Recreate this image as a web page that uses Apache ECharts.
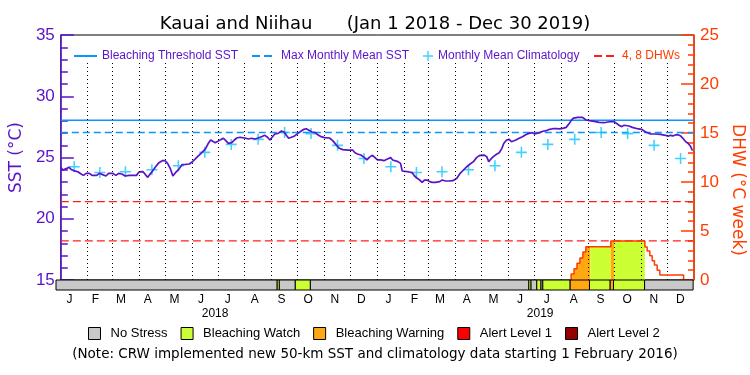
<!DOCTYPE html>
<html>
<head>
<meta charset="utf-8">
<script src="https://cdn.jsdelivr.net/npm/echarts@6/dist/echarts.min.js"></script>
<style>
html,body{margin:0;padding:0;background:#fff;}
#chart{width:750px;height:375px;}
</style>
</head>
<body>
<div id="chart"></div>
<script>
// all days are counted from Jan 1 2018
var monthStarts = [0,31,59,90,120,151,181,212,243,273,304,334,365,396,424,455,485,516,546,577,608,638,669,699,730];
var monthLetters = ['J','F','M','A','M','J','J','A','S','O','N','D'];
var yearLabels = ['2018','2019'];
var yearLabelDays = [182, 554];

// daily SST
var sstDays = [0,2.4,6.3,9.3,12,14.7,19.6,23.4,26.1,29.2,33,36,38.3,41.4,44.4,48.2,52.1,55.1,59.7,63.5,66.6,70.4,74.2,78.8,87.2,90.2,94.8,97.1,100.2,102.4,105.5,109.3,113.1,117,120,123.1,126.1,129.2,132.2,136,139.9,143.7,148.2,151.3,155.1,158.9,162.8,166.6,169.6,172.7,175,178,180.3,
  184.9,187.5,190.2,193.3,197.1,200.1,202.8,206.6,212.3,216.2,220,223.8,227.6,231.4,235.2,238.3,241,243.6,246.7,250.5,254.3,257.4,260,262.7,265.8,269.6,273.4,277.2,280.3,283,285.6,289.4,293.3,296.3,300.1,303.9,309.7,313.5,317.3,321.1,325,330.7,336.4,339.1,342.1,345.9,349.7,352.8,355.5,359.3,362,365,
  368.8,372.6,376.5,380.3,382.6,384.8,388.7,391.7,393.6,395.5,401.3,405.1,407.8,410.8,413.9,416.5,419.2,422.3,425.3,428,431.8,436.8,439.8,443.2,447.1,452,456.6,460.4,464.2,468.1,471.9,475.7,479.5,483.3,487.9,491,493.3,495.5,498.6,502.4,505.5,508.5,510.8,513.9,516.9,519.6,521.5,524.6,528.4,532.2,536,539.6,543.6,546.3,548.2,
  552,555.8,559.7,563.5,567.3,571.1,574.9,578.7,582.6,584.5,586.4,588.3,591,595.9,601.6,605.5,609.3,615,620.7,626.5,630.3,634.1,637.9,639.8,643.6,646.7,649.3,651.3,655.1,658.9,664.6,669.6,674.2,679.9,685.6,691.3,697.1,700.1,702.8,705.5,708.5,711.6,714.2,716.9,720,723,725.7,727.6,728.4];
var sstVals = [24.20,23.98,24.09,24.20,24.03,23.93,23.84,23.65,23.54,23.71,23.71,23.54,23.38,23.54,23.71,23.60,23.49,23.71,23.71,23.54,23.71,23.65,23.49,23.54,23.54,23.82,23.84,23.71,23.38,23.60,23.87,24.25,24.58,24.74,24.74,24.52,24.12,23.49,23.76,24.03,24.42,24.44,24.47,24.63,24.88,25.15,25.42,25.69,26.10,26.43,26.54,26.21,26.29,
  26.48,26.57,26.38,26.16,26.21,26.43,26.59,26.65,26.59,26.51,26.57,26.51,26.59,26.70,26.81,26.65,26.43,26.65,26.92,26.97,27.16,27.08,26.81,26.57,26.65,26.76,26.97,27.16,27.30,27.35,27.25,27.08,27.03,26.86,26.70,26.62,26.59,26.38,26.05,25.75,25.64,25.61,25.61,25.39,25.29,25.20,25.01,24.80,25.01,25.18,25.01,24.80,
  24.80,24.74,24.88,24.99,24.80,24.66,24.66,24.52,23.90,23.84,23.82,23.76,23.49,23.30,23.16,22.97,23.16,23.16,23.03,22.97,22.97,23.03,23.16,23.08,23.08,23.11,23.30,23.71,23.98,24.25,24.47,24.66,25.01,25.18,25.20,25.07,24.66,24.85,25.07,25.26,25.39,25.75,26.16,26.43,26.48,26.29,26.16,26.43,26.57,26.70,26.86,26.97,27.03,26.92,26.89,
  27.03,27.14,27.19,27.30,27.35,27.35,27.33,27.38,27.46,27.52,27.79,28.01,28.22,28.28,28.28,28.06,28.01,27.95,27.87,27.84,27.90,27.93,27.93,27.84,27.63,27.52,27.63,27.71,27.57,27.46,27.35,27.30,27.08,26.92,26.92,26.89,26.81,26.73,26.81,26.76,26.84,26.86,26.78,26.59,26.32,26.16,25.94,25.67,25.56];

// monthly mean climatology, Jan..Dec
var climVals = [24.25,23.78,23.83,24.00,24.33,25.42,26.07,26.48,27.04,26.95,25.99,24.92];
var mmm = 27.04;
var bleachThreshold = 28.04;
var dhwLevels = [4, 8];

// DHW: new value starting on each day
var dhwDays = [588.3,591.7,595.1,598.5,601.9,605.3,634.1,673.4,676.0,679.1,681.8,684.4,687.5,690.6,718.0];
var dhwVals = [0.6,1.15,1.7,2.25,2.85,3.4,3.98,3.37,2.96,2.48,1.97,1.53,0.99,0.51,0];

// stress level segments
var statusStart = [0,253.1,255.4,273.8,290.9,541.0,543.3,550.1,554.7,557.0,588.3,610.4,634.1,637.9,673.4];
var statusEnd   = [253.1,255.4,273.8,290.9,541.0,543.3,550.1,554.7,557.0,588.3,610.4,634.1,637.9,673.4,729.0];
var statusLevel = [0,1,0,1,0,1,0,1,0,1,2,1,2,1,0];
var statusNames = ['No Stress','Bleaching Watch','Bleaching Warning','Alert Level 1','Alert Level 2'];
var statusColors = ['#c8c8c8','#ccff33','#ffa812','#ff0000','#960000'];

var xMin = 0, xMax = 730;
var sstColor = '#5a14c8';
var dhwColor = '#ff3c00';
var font = 'Liberation Sans';
var wideFont = 'DejaVu Sans';

function dhwAt(d) {
	var v = 0;
	for (var i = 0; i < dhwDays.length; i++) {
		if (dhwDays[i] <= d) v = dhwVals[i];
	}
	return v;
}

var monthMids = [];
for (var i = 0; i < monthStarts.length - 1; i++) {
	monthMids.push((monthStarts[i] + monthStarts[i + 1]) / 2);
}

var sstData = sstDays.map(function(d, i) { return [d, sstVals[i]]; });
var climData = monthMids.map(function(d, i) { return [d, climVals[i % 12]]; });

var dhwLine = [];
var prev = 0;
dhwDays.forEach(function(d, i) {
	dhwLine.push([d, prev]);
	dhwLine.push([d, dhwVals[i]]);
	prev = dhwVals[i];
});

var dhwRefData = [];
dhwLevels.forEach(function(v, i) {
	if (i > 0) dhwRefData.push('-');
	dhwRefData.push([xMin, v], [xMax, v]);
});

// dotted month lines, they stop under the legend
var gridLines = monthStarts.slice(1, monthStarts.length - 1).map(function(d) {
	return [{coord: [d, 15]}, {coord: [d, 32.8]}];
});

var series = [];

// filled DHW area, coloured by stress level
statusStart.forEach(function(a, k) {
	var b = statusEnd[k];
	var lvl = statusLevel[k];
	if (lvl === 0) return;
	var pts = [[a, dhwAt(a)]];
	dhwDays.forEach(function(s) {
		if (s > a && s < b) {
			pts.push([s, dhwAt(s - 0.001)]);
			pts.push([s, dhwAt(s)]);
		}
	});
	pts.push([b, dhwAt(b - 0.001)]);
	var any = pts.some(function(p) { return p[1] > 0; });
	if (!any) return;
	series.push({
		type: 'line', xAxisIndex: 0, yAxisIndex: 1, data: pts,
		symbol: 'none', silent: true, lineStyle: {width: 0},
		areaStyle: {color: statusColors[lvl], opacity: 1}, z: 1
	});
});

series.push({
	name: 'Bleaching Threshold SST', type: 'line', xAxisIndex: 0, yAxisIndex: 0,
	data: [[xMin, bleachThreshold], [xMax, bleachThreshold]],
	symbol: 'none', lineStyle: {color: '#0a96ff', width: 1.5}, itemStyle: {color: '#0a96ff'}, z: 2
});
series.push({
	name: 'Max Monthly Mean SST', type: 'line', xAxisIndex: 0, yAxisIndex: 0,
	data: [[xMin, mmm], [xMax, mmm]],
	symbol: 'none', lineStyle: {color: '#0a96ff', width: 1.5, type: [7, 4]}, itemStyle: {color: '#0a96ff'}, z: 2
});
series.push({
	name: '4, 8 DHWs', type: 'line', xAxisIndex: 0, yAxisIndex: 1,
	data: dhwRefData, connectNulls: false,
	symbol: 'none', lineStyle: {color: '#ff1e1e', width: 1.3, type: [8, 4]}, itemStyle: {color: '#ff1e1e'}, z: 2
});
series.push({
	name: 'Monthly Mean Climatology', type: 'scatter', xAxisIndex: 0, yAxisIndex: 0,
	data: climData,
	symbol: 'path://M4.3,0H5.7V10H4.3ZM0,4.3H10V5.7H0Z', symbolSize: 11,
	itemStyle: {color: '#14c3ff'}, z: 3
});
series.push({
	name: 'SST', type: 'line', xAxisIndex: 0, yAxisIndex: 0,
	data: sstData, symbol: 'none',
	lineStyle: {color: sstColor, width: 1.7}, z: 4,
	markLine: {
		silent: true, symbol: ['none', 'none'], label: {show: false},
		lineStyle: {color: '#000', type: [1, 3], width: 1},
		data: gridLines, animation: false
	}
});
series.push({
	name: 'DHW', type: 'line', xAxisIndex: 0, yAxisIndex: 1,
	data: dhwLine, symbol: 'none',
	lineStyle: {color: dhwColor, width: 1.5}, z: 5
});

// stress bar under the plot
statusNames.forEach(function(nm, lvl) {
	var segs = [];
	statusStart.forEach(function(a, k) {
		if (statusLevel[k] === lvl) segs.push([a, statusEnd[k]]);
	});
	series.push({
		name: nm, type: 'custom', xAxisIndex: 1, yAxisIndex: 2,
		data: segs, itemStyle: {color: statusColors[lvl]},
		renderItem: function(params, api) {
			var p0 = api.coord([api.value(0), 1]);
			var p1 = api.coord([api.value(1), 0]);
			return {
				type: 'rect',
				shape: {x: p0[0], y: p0[1], width: p1[0] - p0[0], height: p1[1] - p0[1]},
				style: {fill: statusColors[lvl], stroke: '#000', lineWidth: 1}
			};
		},
		z: 6
	});
});

var lineIcon = 'path://M0,0H23V2H0Z';
var dashIcon = 'path://M0,0H8V2H0ZM12,0H20V2H12Z';
var plusIcon = 'path://M4.3,0H5.7V10H4.3ZM0,4.3H10V5.7H0Z';

var chart = echarts.init(document.getElementById('chart'));
chart.setOption({
	animation: false,
	backgroundColor: '#fff',
	textStyle: {fontFamily: font},
	title: {
		text: 'Kauai and Niihau      (Jan 1 2018 - Dec 30 2019)',
		left: 'center', top: 10,
		textStyle: {fontFamily: wideFont, fontSize: 18, fontWeight: 'normal', color: '#000'}
	},
	legend: [
		{data: [{name: 'Bleaching Threshold SST', icon: lineIcon}], left: 69, top: 45, itemWidth: 23, itemHeight: 2, selectedMode: false,
			textStyle: {fontFamily: font, fontSize: 12, color: sstColor}},
		{data: [{name: 'Max Monthly Mean SST', icon: dashIcon}], left: 247, top: 45, itemWidth: 20, itemHeight: 2, selectedMode: false,
			textStyle: {fontFamily: font, fontSize: 12, color: sstColor, padding: [0, 0, 0, 4]}},
		{data: [{name: 'Monthly Mean Climatology', icon: plusIcon}], left: 418, top: 45, itemWidth: 10, itemHeight: 10, selectedMode: false,
			textStyle: {fontFamily: font, fontSize: 12, color: sstColor}},
		{data: [{name: '4, 8 DHWs', icon: dashIcon}], left: 589, top: 45, itemWidth: 20, itemHeight: 2, selectedMode: false,
			textStyle: {fontFamily: font, fontSize: 12, color: dhwColor, padding: [0, 0, 0, 3]}},
		{data: statusNames, left: 88, top: 327, padding: 0, itemWidth: 12, itemHeight: 12, itemGap: 13, icon: 'rect',
			selectedMode: false, itemStyle: {borderColor: '#000', borderWidth: 1},
			textStyle: {fontFamily: font, fontSize: 13, color: '#000', padding: [0, 0, 0, 5]}}
	],
	grid: [
		{left: 56, top: 35, width: 638, height: 245, show: true, borderColor: '#000', borderWidth: 1},
		{left: 56, top: 280, width: 638, height: 10}
	],
	xAxis: [
		{gridIndex: 0, type: 'value', min: xMin, max: xMax, show: false},
		{gridIndex: 1, type: 'value', min: xMin, max: xMax, position: 'bottom',
			axisLine: {show: false}, axisTick: {show: false}, splitLine: {show: false},
			axisLabel: {customValues: monthMids, margin: 4, fontSize: 12, color: '#000', fontFamily: font,
				formatter: function(v) {
					var i = monthMids.indexOf(v);
					return i < 0 ? '' : monthLetters[i % 12];
				}}},
		{gridIndex: 1, type: 'value', min: xMin, max: xMax, position: 'bottom', offset: 14,
			axisLine: {show: false}, axisTick: {show: false}, splitLine: {show: false},
			axisLabel: {customValues: yearLabelDays, margin: 4, fontSize: 12, color: '#000', fontFamily: font,
				formatter: function(v) {
					var i = yearLabelDays.indexOf(v);
					return i < 0 ? '' : yearLabels[i];
				}}}
	],
	yAxis: [
		{gridIndex: 0, type: 'value', min: 15, max: 35, interval: 5, position: 'left',
			name: 'SST (°C)', nameLocation: 'middle', nameRotate: 90, nameGap: 32,
			nameTextStyle: {fontSize: 17, color: sstColor, fontFamily: wideFont},
			axisLine: {show: true, lineStyle: {color: sstColor, width: 1.5}},
			axisTick: {show: true, inside: true, length: 13, lineStyle: {color: sstColor, width: 1.5}},
			minorTick: {show: true, splitNumber: 5, length: 7, lineStyle: {color: sstColor, width: 1.5}},
			axisLabel: {fontSize: 17, color: sstColor, margin: 6, fontFamily: font},
			splitLine: {show: false}},
		{gridIndex: 0, type: 'value', min: 0, max: 25, interval: 5, position: 'right',
			axisLine: {show: true, lineStyle: {color: dhwColor, width: 1.5}},
			axisTick: {show: true, inside: true, length: 13, lineStyle: {color: dhwColor, width: 1.5}},
			minorTick: {show: true, splitNumber: 5, length: 6, lineStyle: {color: dhwColor, width: 1.5}},
			axisLabel: {fontSize: 17, color: dhwColor, margin: 6, fontFamily: font},
			splitLine: {show: false}},
		{gridIndex: 1, type: 'value', min: 0, max: 1, show: false},
		{gridIndex: 1, type: 'value', min: 0, max: 1, show: false}
	],
	graphic: [
		{type: 'text', x: 737, y: 190, rotation: -Math.PI / 2,
			style: {text: 'DHW (°C week)', fill: dhwColor, font: '17px ' + wideFont, align: 'center', verticalAlign: 'middle'}},
		{type: 'text', left: 'center', top: 347,
			style: {text: '(Note: CRW implemented new 50-km SST and climatology data starting 1 February 2016)',
				fill: '#000', font: '13.5px ' + wideFont}}
	],
	series: series
});
</script>
</body>
</html>
